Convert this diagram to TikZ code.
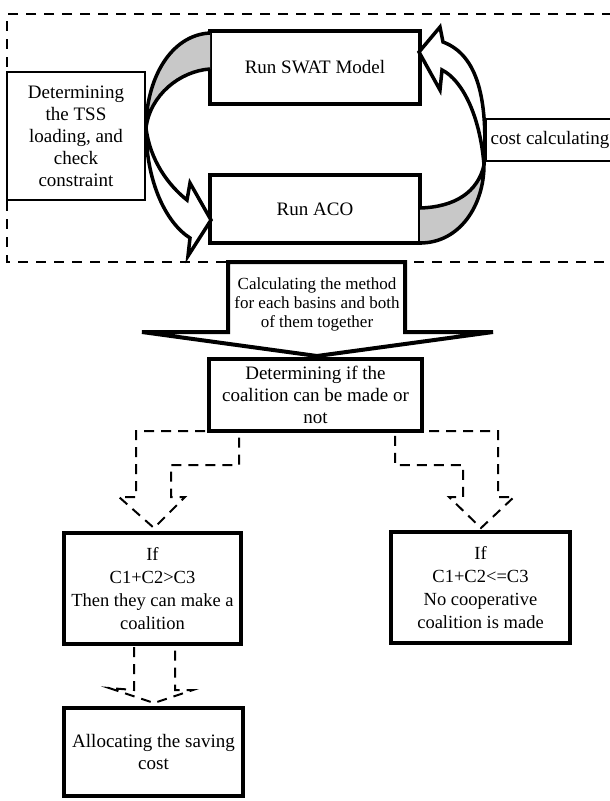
\documentclass[tikz,border=0pt]{standalone}
\usepackage{fontspec}
\setmainfont{Liberation Serif}
\begin{document}
\begin{tikzpicture}[x=1pt,y=-1pt,
    thickbox/.style={draw, line width=4pt, fill=white, align=center, inner sep=1pt},
    thinbox/.style={draw, line width=1.2pt, fill=white, align=center, inner sep=1pt},
    bodytext/.style={font=\fontsize{19}{22}\selectfont},
    casetext/.style={font=\fontsize{18.5}{23}\selectfont},
    bendarrow/.style={line width=3.5pt, line join=miter, fill=white},
    dashblock/.style={line width=2pt, dash pattern=on 10pt off 7pt, line join=miter}]
    % Define colors
    \definecolor{backgray}{RGB}{200,200,200}

    \useasboundingbox (0,0) rectangle (610,801);

    % Draw the dashed frame
    \draw[line width=2pt, dash pattern=on 10pt off 8pt] (612,14) -- (7,14) -- (7,262) -- (612,262);

    % Boxes of the loop
    \node[thinbox, bodytext, minimum width=138pt, minimum height=128pt] (tss) at (76,136) {Determining\\the TSS\\loading, and\\check\\constraint};
    \node[thinbox, bodytext, minimum width=128pt, minimum height=42pt] (cost) at (550,140) {cost calculating};
    \node[thickbox, bodytext, minimum width=210pt, minimum height=73pt] (swat) at (315,67) {Run SWAT Model};
    \node[thickbox, bodytext, minimum width=210pt, minimum height=68pt] (aco) at (315,209) {Run ACO};

    % Left curved arrow (SWAT -> ACO)
    \fill[backgray] (210,33) .. controls (170,35) and (146,80) .. (146,128) .. controls (150,95) and (180,71) .. (210,69) -- cycle;
    \draw[line width=3.5pt] (210,33) .. controls (170,35) and (146,80) .. (146,128) .. controls (150,95) and (180,71) .. (210,69);
    \filldraw[bendarrow] (146,128) .. controls (146,180) and (165,222) .. (190,238) -- (188,256) -- (211,220) -- (190,183) -- (187,200) .. controls (168,185) and (150,160) .. (146,128) -- cycle;

    % Right curved arrow (ACO -> SWAT)
    \fill[backgray] (420,243) .. controls (460,243) and (484,205) .. (484,165) .. controls (478,192) and (455,207) .. (420,208) -- cycle;
    \draw[line width=3.5pt] (420,243) .. controls (460,243) and (484,205) .. (484,165) .. controls (478,192) and (455,207) .. (420,208);
    \filldraw[bendarrow] (484,165) .. controls (488,100) and (478,55) .. (443,42) -- (440,27) -- (419,52) -- (440,90) -- (442,70) .. controls (462,80) and (480,115) .. (484,165) -- cycle;

    % Big block arrow
    \filldraw[line width=4pt, fill=white, line join=miter] (228,262) -- (228,332) -- (142,332) -- (317,356) -- (493,332) -- (405,332) -- (405,262) -- cycle;
    \node[font=\fontsize{17}{19}\selectfont, align=center] (calc) at (317,304) {Calculating the method\\for each basins and both\\of them together};

    % Dashed block arrows
    \draw[dashblock] (239,431) -- (136,431) -- (136,497) -- (119,497) -- (154,528) -- (185,497) -- (171,497) -- (171,465) -- (239,465) -- cycle;
    \draw[dashblock] (395,431) -- (498,431) -- (498,497) -- (514,497) -- (481,528) -- (449,497) -- (463,497) -- (463,465) -- (395,465) -- cycle;
    \draw[dashblock] (134,647) -- (134,690) -- (109,688) -- (154,703) -- (193,690) -- (175,690) -- (175,647);

    % Decision boxes
    \node[thickbox, bodytext, minimum width=213pt, minimum height=72pt] (coal) at (315.5,395) {Determining if the\\coalition can be made or\\not};
    \node[thickbox, casetext, minimum width=177pt, minimum height=111pt] (yes) at (152.5,588.5) {If\\C1+C2>C3\\Then they can make a\\coalition};
    \node[thickbox, casetext, minimum width=179pt, minimum height=111pt] (no) at (480.5,587.5) {If\\C1+C2<=C3\\No cooperative\\coalition is made};
    \node[thickbox, bodytext, minimum width=179pt, minimum height=88pt] (alloc) at (153.5,752) {Allocating the saving\\cost};
\end{tikzpicture}
\end{document}
